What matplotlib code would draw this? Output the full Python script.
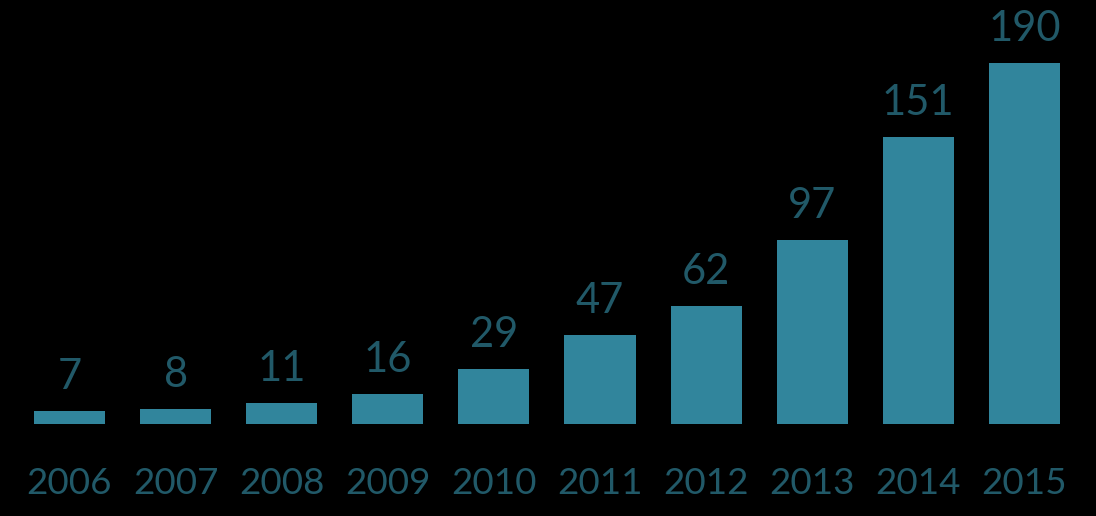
import matplotlib
matplotlib.use("Agg")
import matplotlib.pyplot as plt

years = ["2006", "2007", "2008", "2009", "2010", "2011", "2012", "2013", "2014", "2015"]
values = [7, 8, 11, 16, 29, 47, 62, 97, 151, 190]

bar_color = "#31859C"
text_color = "#215968"

fig = plt.figure(figsize=(10.96, 5.16), dpi=100, facecolor="black")
ax = fig.add_axes([0, 0, 1, 1], facecolor="black")
x = list(range(len(years)))
ax.bar(x, values, width=0.67, color=bar_color)
ax.set_xlim(-0.655, 9.675)
ax.set_ylim(-48.4, 223.2)
ax.axis("off")

for xi, v in zip(x, values):
    ax.annotate(str(v), (xi, v), xytext=(0, 15), textcoords="offset pixels",
                ha="center", va="bottom", fontsize=30, color=text_color,
                family=["Lato", "DejaVu Sans"])
for xi, yr in zip(x, years):
    ax.annotate(yr, (xi, 0), xytext=(0, -70), textcoords="offset pixels",
                ha="center", va="baseline", fontsize=26.5, color=text_color,
                family=["Lato", "DejaVu Sans"])

fig.savefig("out.png", dpi=100, facecolor="black")
